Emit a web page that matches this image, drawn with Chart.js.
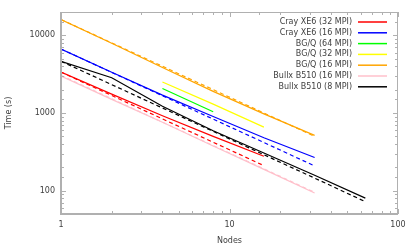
<!DOCTYPE html>
<html>
<head>
<meta charset="utf-8">
<script src="https://cdn.jsdelivr.net/npm/chart.js@4.4.1/dist/chart.umd.min.js"></script>
<style>
  html, body { margin: 0; padding: 0; background: #fff; }
  #wrap { width: 415px; height: 249px; }
</style>
</head>
<body>
<div id="wrap"><canvas id="scaling" width="415" height="249"></canvas></div>
<script>
// node counts for each run
const nodesAll = [1, 2, 4, 8, 16, 32, 64];
const nodesTo16 = [1, 2, 4, 8, 16];
const nodesTo32 = [1, 2, 4, 8, 16, 32];
const nodesBgqWide = [4, 8, 16];
const nodesBgq64 = [4, 8];

// measured times (s)
const cray32 = [3360, 1750, 920, 500, 277];
const cray16 = [6670, 3350, 1700, 900, 480, 267];
const bgq64 = [2065, 1040];
const bgq32 = [2508, 1300, 658];
const bgq16 = [16000, 7900, 3850, 1900, 975, 515];
const bullx16 = [2985, 1500, 760, 375, 188, 93];
const bullx8 = [4640, 2850, 1220, 590, 305, 158, 80];

// ideal scaling (dashed)
const cray32Ideal = [3360, 1680, 840, 420, 210];
const cray16Ideal = [6670, 3335, 1668, 834, 417, 208];
const bgq16Ideal = [16000, 8000, 4000, 2000, 1000, 500];
const bullx16Ideal = [3050, 1525, 762, 381, 191, 95];
const bullx8Ideal = [4640, 2320, 1160, 580, 290, 145, 72];

const xTickLabels = [1, 10, 100];
const yTickLabels = [100, 1000, 10000];

const textColor = "#404040";
const axisColor = "#b0b0b0";
const fontFamily = "DejaVu Sans";

function pts(xs, ys) {
  return ys.map((v, i) => ({ x: xs[i], y: v }));
}

function solid(label, xs, ys, color) {
  return {
    label,
    data: pts(xs, ys),
    borderColor: color,
    borderWidth: 1.2,
    pointRadius: 0,
    tension: 0,
    fill: false
  };
}

function dashed(xs, ys, color) {
  return {
    label: "",
    ideal: true,
    data: pts(xs, ys),
    borderColor: color,
    borderWidth: 1.2,
    borderDash: [4, 3],
    pointRadius: 0,
    tension: 0,
    fill: false
  };
}

const frame = {
  id: "frame",
  afterDatasetsDraw(chart) {
    const { ctx, chartArea: a, scales } = chart;
    const x = scales.x, y = scales.y;
    ctx.save();
    ctx.strokeStyle = axisColor;
    ctx.lineWidth = 1;
    const seg = (x1, y1, x2, y2) => {
      ctx.beginPath(); ctx.moveTo(x1, y1); ctx.lineTo(x2, y2); ctx.stroke();
    };
    x.ticks.forEach(t => {
      const px = Math.round(x.getPixelForValue(t.value)) + 0.5;
      const len = xTickLabels.includes(t.value) ? 5 : 3;
      seg(px, a.bottom, px, a.bottom - len);
      seg(px, a.top, px, a.top + len);
    });
    y.ticks.forEach(t => {
      const py = Math.round(y.getPixelForValue(t.value)) + 0.5;
      const len = yTickLabels.includes(t.value) ? 5 : 3;
      seg(a.left, py, a.left + len, py);
      seg(a.right, py, a.right - len, py);
    });
    seg(a.left, a.top + 0.5, a.right, a.top + 0.5);
    seg(a.right - 0.5, a.top, a.right - 0.5, a.bottom);
    ctx.lineWidth = 2;
    seg(a.left, a.bottom, a.right, a.bottom);
    seg(a.left, a.top, a.left, a.bottom + 1);

    // legend: text right-aligned, sample line to its right
    ctx.font = "8px " + fontFamily;
    ctx.textAlign = "right";
    ctx.textBaseline = "middle";
    let row = 0;
    chart.data.datasets.forEach(ds => {
      if (ds.ideal) return;
      const ly = 22 + row * 10.8;
      ctx.fillStyle = textColor;
      ctx.fillText(ds.label, 352, ly);
      ctx.strokeStyle = ds.borderColor;
      ctx.lineWidth = 1.5;
      seg(358, ly, 387, ly);
      row++;
    });
    ctx.restore();
  }
};

new Chart(document.getElementById("scaling"), {
  type: "line",
  data: {
    datasets: [
      dashed(nodesTo16, cray32Ideal, "#ff0000"),
      dashed(nodesTo32, cray16Ideal, "#0000ff"),
      dashed(nodesTo32, bgq16Ideal, "#ffa500"),
      dashed(nodesTo32, bullx16Ideal, "#ffc0cb"),
      dashed(nodesAll, bullx8Ideal, "#000000"),
      solid("Cray XE6 (32 MPI)", nodesTo16, cray32, "#ff0000"),
      solid("Cray XE6 (16 MPI)", nodesTo32, cray16, "#0000ff"),
      solid("BG/Q (64 MPI)", nodesBgq64, bgq64, "#00ff00"),
      solid("BG/Q (32 MPI)", nodesBgqWide, bgq32, "#ffff00"),
      solid("BG/Q (16 MPI)", nodesTo32, bgq16, "#ffa500"),
      solid("Bullx B510 (16 MPI)", nodesTo32, bullx16, "#ffc0cb"),
      solid("Bullx B510 (8 MPI)", nodesAll, bullx8, "#000000")
    ]
  },
  options: {
    responsive: false,
    animation: false,
    devicePixelRatio: 1,
    layout: { padding: { top: 12, right: 17, left: 0, bottom: 0 } },
    plugins: {
      legend: { display: false },
      tooltip: { enabled: false }
    },
    scales: {
      x: {
        type: "logarithmic",
        min: 1,
        max: 100,
        grid: { display: false, drawTicks: false },
        border: { display: false },
        ticks: {
          autoSkip: false,
          maxRotation: 0,
          padding: 6,
          color: textColor,
          font: { family: fontFamily, size: 8 },
          callback: v => (xTickLabels.includes(v) ? String(v) : "")
        },
        title: {
          display: true,
          text: "Nodes",
          color: textColor,
          font: { family: fontFamily, size: 8 },
          padding: { top: 0, bottom: 3 }
        },
        afterFit: s => { s.height = 35; }
      },
      y: {
        type: "logarithmic",
        min: 50,
        max: 20000,
        grid: { display: false, drawTicks: false },
        border: { display: false },
        ticks: {
          autoSkip: false,
          padding: 6,
          color: textColor,
          font: { family: fontFamily, size: 8 },
          callback: v => (yTickLabels.includes(v) ? String(v) : "")
        },
        title: {
          display: true,
          text: "Time (s)",
          color: textColor,
          font: { family: fontFamily, size: 8 },
          padding: { top: 4, bottom: 0 }
        },
        afterFit: s => { s.width = 61; }
      }
    }
  },
  plugins: [frame]
});
</script>
</body>
</html>
